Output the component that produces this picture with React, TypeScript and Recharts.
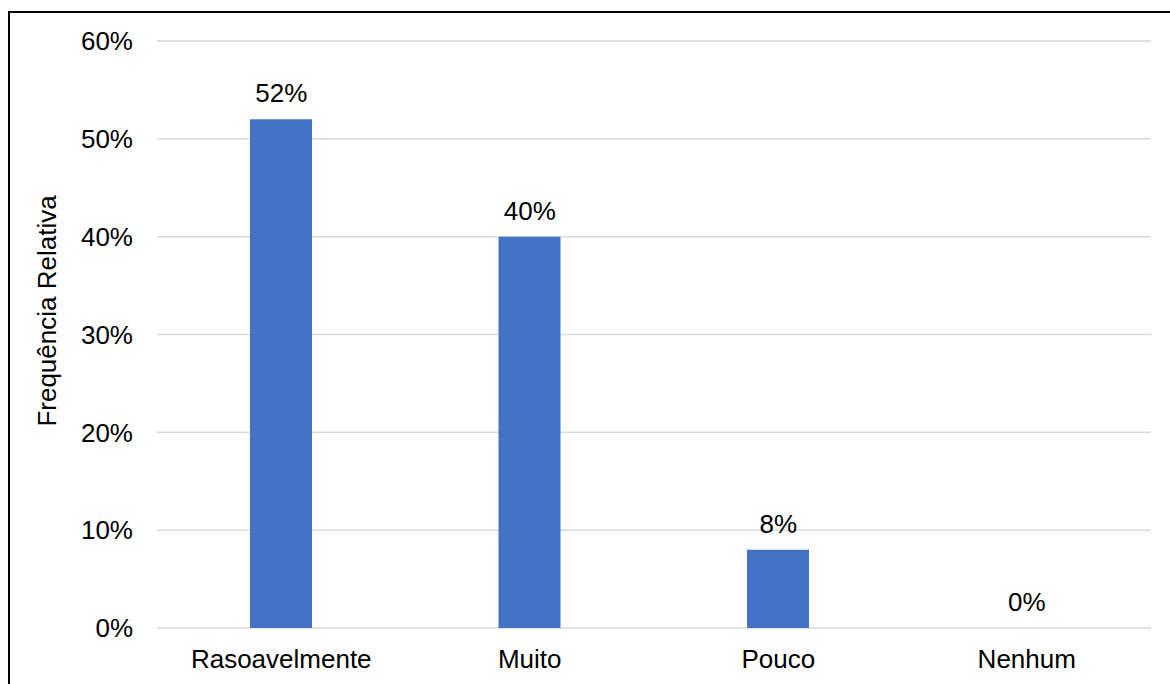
import { ComposedChart, Bar, Line, XAxis, YAxis, CartesianGrid, LabelList } from "recharts";

const categorias = ["Rasoavelmente", "Muito", "Pouco", "Nenhum"];
const frequencias = [52, 40, 8, 0];
const yTicks = [0, 10, 20, 30, 40, 50, 60];

const data = categorias.map((nome, i) => ({ nome, valor: frequencias[i] }));

const font = "Arial, 'Liberation Sans', sans-serif";

function YLabel() {
  return (
    <text
      x={37}
      y={298}
      transform="rotate(-90, 37, 298)"
      textAnchor="middle"
      dominantBaseline="central"
      fontSize={26}
      fontFamily={font}
      fill="#000"
    >
      Frequência Relativa
    </text>
  );
}

export default function App() {
  return (
    <div
      style={{
        position: "absolute",
        left: 8,
        top: 11,
        width: 1180,
        height: 700,
        borderLeft: "2px solid #000",
        borderTop: "2px solid #000",
        overflow: "hidden",
      }}
    >
      <ComposedChart
        width={1160}
        height={671}
        data={data}
        margin={{ top: 28, right: 19, left: 0, bottom: 0 }}
      >
        <CartesianGrid vertical={false} stroke="#d9d9d9" strokeWidth={1.5} />
        <XAxis
          dataKey="nome"
          axisLine={false}
          tickLine={false}
          height={56}
          tickMargin={16}
          tick={{ fontSize: 26, fontFamily: font, fill: "#000" }}
        />
        <YAxis
          domain={[0, 60]}
          ticks={yTicks}
          width={147}
          axisLine={false}
          tickLine={false}
          tickMargin={18}
          tickFormatter={(v) => `${v}%`}
          tick={{ fontSize: 26, fontFamily: font, fill: "#000" }}
          label={<YLabel />}
        />
        <Bar dataKey="valor" fill="#4472C4" barSize={62} isAnimationActive={false} />
        {/* invisible line only to carry the value labels (incl. the 0% one) */}
        <Line
          dataKey="valor"
          stroke="none"
          dot={false}
          activeDot={false}
          isAnimationActive={false}
        >
          <LabelList
            dataKey="valor"
            position="top"
            offset={17}
            formatter={(v: any) => `${v}%`}
            style={{ fontSize: 26, fontFamily: font, fill: "#000" }}
          />
        </Line>
      </ComposedChart>
    </div>
  );
}
